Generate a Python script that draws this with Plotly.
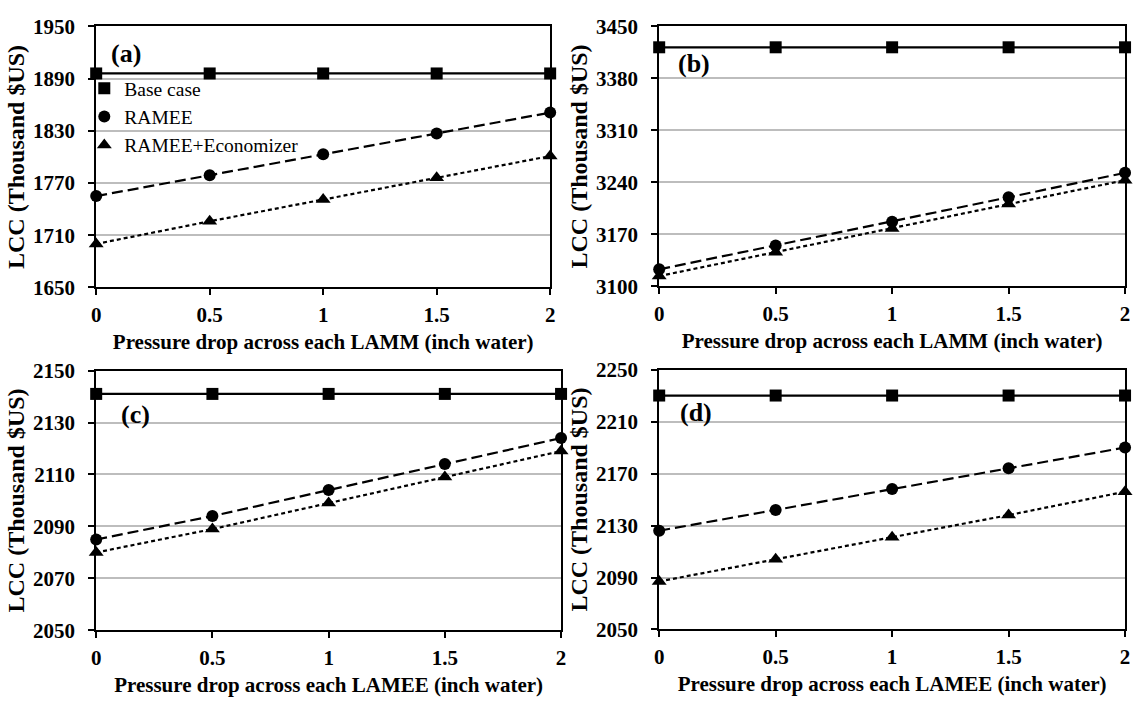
import plotly.graph_objects as go

# Pressure drop across each exchanger (inch water)
pressure_drop = [0, 0.5, 1, 1.5, 2]
x_tick_text = ["0", "0.5", "1", "1.5", "2"]

# Life-cycle cost (thousand $US) for each case
a_base = [1896, 1896, 1896, 1896, 1896]
a_ramee = [1755, 1779, 1803, 1827, 1851]
a_econ = [1700, 1726, 1751, 1776, 1801]

b_base = [3422, 3422, 3422, 3422, 3422]
b_ramee = [3123, 3155, 3187, 3220, 3253]
b_econ = [3114, 3146, 3178, 3211, 3243]

c_base = [2141, 2141, 2141, 2141, 2141]
c_ramee = [2085, 2094, 2104, 2114, 2124]
c_econ = [2080, 2089, 2099, 2109, 2119]

d_base = [2230, 2230, 2230, 2230, 2230]
d_ramee = [2126, 2142, 2158, 2174, 2190]
d_econ = [2087, 2104, 2121, 2138, 2156]

series_names = ["Base case", "RAMEE", "RAMEE+Economizer"]
panel_labels = ["(a)", "(b)", "(c)", "(d)"]
x_titles = [
    "Pressure drop across each LAMM (inch water)",
    "Pressure drop across each LAMM (inch water)",
    "Pressure drop across each LAMEE (inch water)",
    "Pressure drop across each LAMEE (inch water)",
]
y_title = "LCC (Thousand $US)"
y_ranges = [(1650, 1950), (3100, 3450), (2050, 2150), (2050, 2250)]
y_steps = [60, 70, 20, 40]

panels = [
    (a_base, a_ramee, a_econ),
    (b_base, b_ramee, b_econ),
    (c_base, c_ramee, c_econ),
    (d_base, d_ramee, d_econ),
]

W, H = 1136, 713
# plot areas in pixels: (left, right, top, bottom)
boxes = [
    (92, 550, 15, 285),
    (660, 1130, 15, 284),
    (92, 561, 371, 640),
    (660, 1130, 370, 639),
]
label_pos = [(0.028, 0.896), (0.036, 0.859), (0.049, 0.829), (0.040, 0.836)]

FONT = "Liberation Serif"
symbols = ["square", "circle", "triangle-up"]
marker_sizes = [12, 12, 13]
dashes = ["solid", "11px,5px", "4px,3px"]

fig = go.Figure()
layout = {}
annotations = []

for i, (series, box) in enumerate(zip(panels, boxes)):
    n = "" if i == 0 else str(i + 1)
    xa, ya = "x" + n, "y" + n
    for j, vals in enumerate(series):
        fig.add_trace(go.Scatter(
            x=pressure_drop, y=vals, xaxis=xa, yaxis=ya, mode="lines",
            line=dict(color="black", width=2.2, dash=dashes[j]),
            showlegend=False, hoverinfo="skip", cliponaxis=False,
        ))
        fig.add_trace(go.Scatter(
            x=pressure_drop, y=vals, xaxis=xa, yaxis=ya, mode="markers",
            name=series_names[j],
            marker=dict(symbol=symbols[j], size=marker_sizes[j], color="black"),
            showlegend=(i == 0), cliponaxis=False,
        ))
    l, r, t, b = box
    layout["xaxis" + n] = dict(
        domain=[l / W, r / W], anchor=ya, range=[0, 2],
        tickvals=pressure_drop, ticktext=x_tick_text,
        showline=True, linecolor="black", linewidth=2, mirror=True,
        ticks="outside", ticklen=6, tickwidth=2, tickcolor="black",
        ticklabelstandoff=1, showgrid=False, zeroline=False,
        tickfont=dict(family=FONT, size=21, color="black", weight="bold"),
        title=dict(text=x_titles[i], standoff=9,
                   font=dict(family=FONT, size=21, color="black", weight="bold")),
    )
    lo, hi = y_ranges[i]
    layout["yaxis" + n] = dict(
        domain=[1 - b / H, 1 - t / H], anchor=xa, range=[lo, hi],
        tick0=lo, dtick=y_steps[i],
        showline=True, linecolor="black", linewidth=2, mirror=True,
        ticks="outside", ticklen=6, tickwidth=2, tickcolor="black",
        ticklabelstandoff=9, showgrid=True, gridcolor="#bdbdbd", gridwidth=1.5,
        zeroline=False,
        tickfont=dict(family=FONT, size=21, color="black", weight="bold"),
        title=dict(text=y_title, standoff=2,
                   font=dict(family=FONT, size=24, color="black", weight="bold")),
    )
    lx, ly = label_pos[i]
    annotations.append(dict(
        text=panel_labels[i], xref=xa + " domain", yref=ya + " domain",
        x=lx, y=ly, xanchor="left", yanchor="middle", showarrow=False,
        font=dict(family=FONT, size=26, color="black", weight="bold"),
    ))

fig.update_layout(
    **layout,
    annotations=annotations,
    width=W, height=H,
    margin=dict(l=0, r=0, t=0, b=0),
    paper_bgcolor="white", plot_bgcolor="white",
    legend=dict(
        x=80 / W, y=1 - 59 / H, xanchor="left", yanchor="top",
        bgcolor="rgba(0,0,0,0)", borderwidth=0, itemwidth=30,
        font=dict(family=FONT, size=19.5, color="black"),
        tracegroupgap=0,
    ),
)

fig.write_html("out.html")
